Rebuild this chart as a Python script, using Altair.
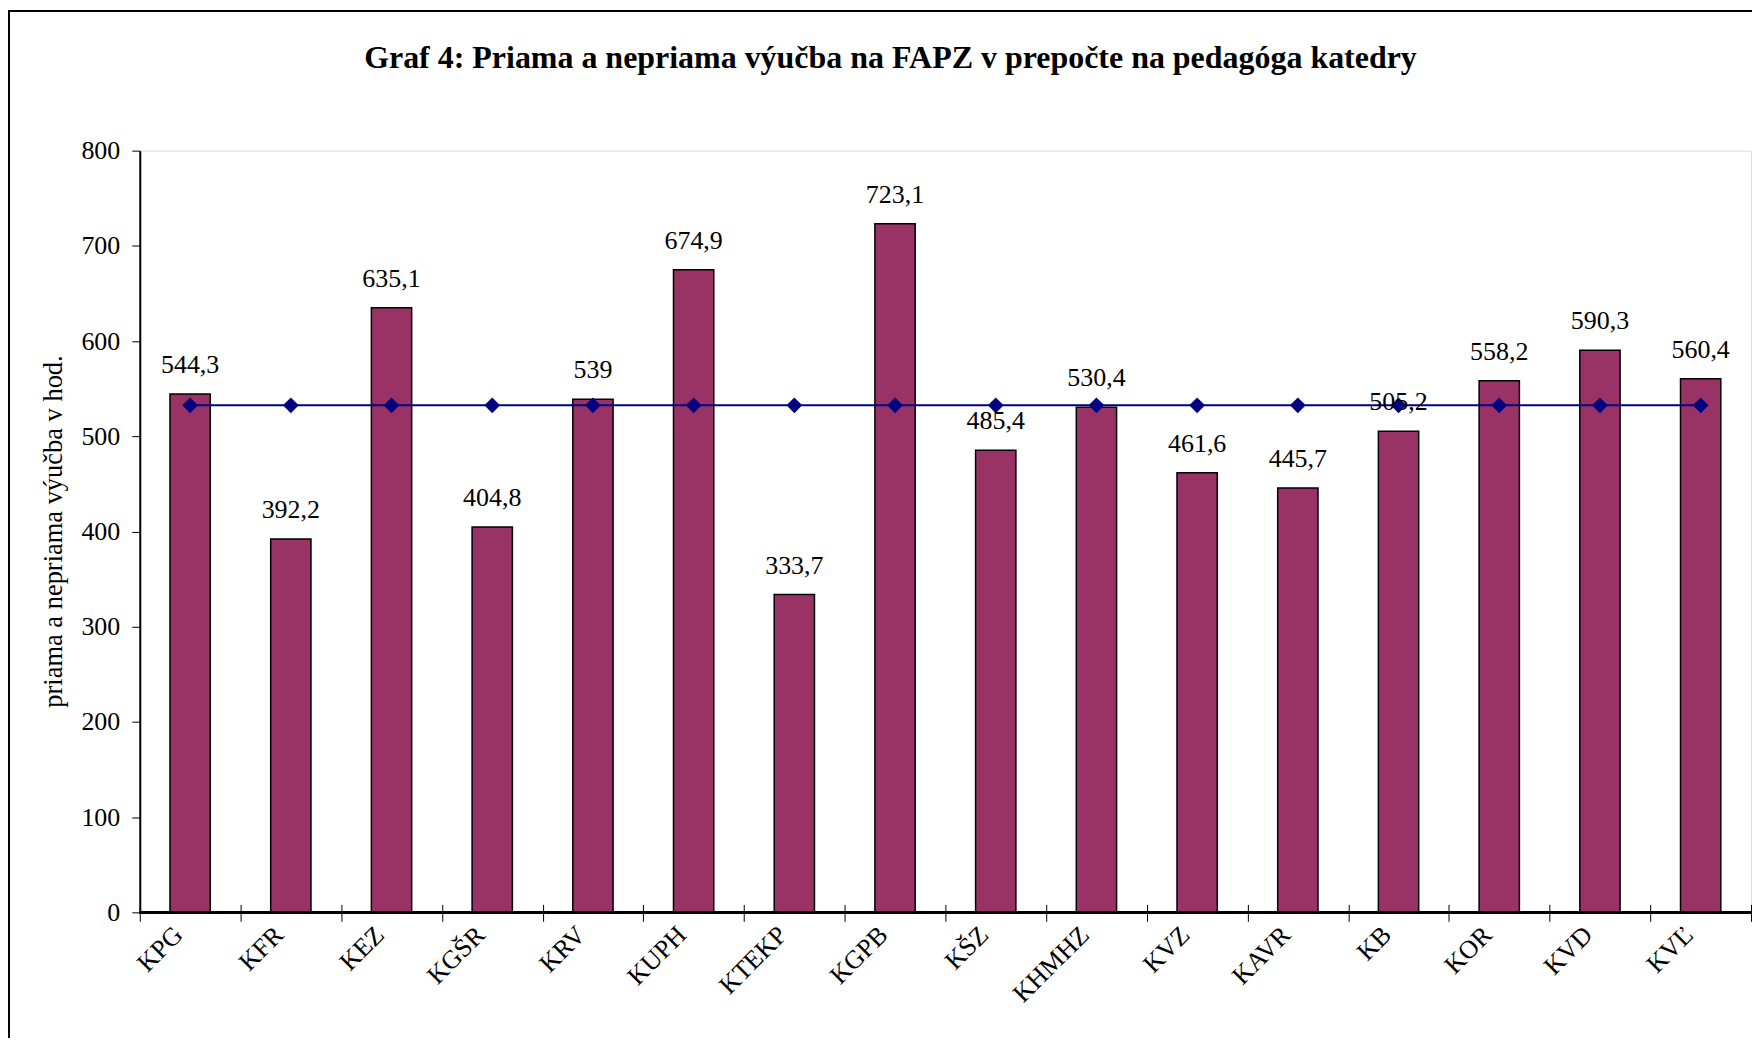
import altair as alt
import pandas as pd

categories = ["KPG", "KFR", "KEZ", "KGŠR", "KRV", "KUPH", "KTEKP", "KGPB",
              "KŠZ", "KHMHZ", "KVZ", "KAVR", "KB", "KOR", "KVD", "KVĽ"]
values = [544.3, 392.2, 635.1, 404.8, 539, 674.9, 333.7, 723.1,
          485.4, 530.4, 461.6, 445.7, 505.2, 558.2, 590.3, 560.4]
average = [532.5, 532.5, 532.5, 532.5, 532.5, 532.5, 532.5, 532.5,
           532.5, 532.5, 532.5, 532.5, 532.5, 532.5, 532.5, 532.5]

df = pd.DataFrame({"katedra": categories, "hodiny": values, "priemer": average})

FONT = "Liberation Serif"
W, H = 1614, 763

x_enc = alt.X(
    "katedra:N", sort=None, title=None,
    scale=alt.Scale(paddingInner=0, paddingOuter=0),
    axis=alt.Axis(
        labelAngle=-45, labelAlign="right", labelBaseline="middle",
        labelFont=FONT, labelFontSize=26, labelColor="black",
        labelPadding=9, labelOffset=-12, labelOverlap=False,
        tickBand="extent", tickSize=17, tickColor="black", tickWidth=1,
        offset=-8, domain=False,
    ),
)

y_enc = alt.Y(
    "hodiny:Q",
    scale=alt.Scale(domain=[0, 800], nice=False),
    axis=alt.Axis(
        values=[0, 100, 200, 300, 400, 500, 600, 700, 800],
        grid=False, tickSize=8, tickColor="black", tickWidth=1,
        domainColor="black", domainWidth=2,
        labelFont=FONT, labelFontSize=26, labelColor="black",
        labelPadding=12, labelFlush=False, labelOverlap=False,
        title="priama a nepriama výučba v hod.",
        titleFont=FONT, titleFontSize=26.5, titleFontWeight="normal",
        titleColor="black", titleAngle=270, titleAlign="center",
        titleBaseline="alphabetic", titleX=-78, titleY=381,
    ),
)

base = alt.Chart(df)

frame = alt.Chart(pd.DataFrame({"f": [0]})).mark_rect(
    filled=False, stroke="black", strokeWidth=2
).encode(
    x=alt.value(-131), x2=alt.value(2400), y=alt.value(-140), y2=alt.value(2400)
)

bars = base.mark_bar(
    width=alt.RelativeBandSize(0.4), color="#993366",
    stroke="black", strokeWidth=1.5
).encode(x=x_enc, y=y_enc)

zero_line = base.mark_rule(color="black", strokeWidth=2).encode(y=alt.datum(0))

avg_line = base.mark_line(color="#000080", strokeWidth=2).encode(
    x=alt.X("katedra:N", sort=None), y=alt.Y("priemer:Q")
)
avg_pts = base.mark_point(
    shape="diamond", filled=True, size=250, color="#000080", opacity=1
).encode(x=alt.X("katedra:N", sort=None), y=alt.Y("priemer:Q"))

labels = base.transform_calculate(
    lab="replace(toString(datum.hodiny), '.', ',')"
).mark_text(
    font=FONT, fontSize=26, color="black", baseline="alphabetic", dy=-21
).encode(x=alt.X("katedra:N", sort=None), y=alt.Y("hodiny:Q"), text="lab:N")

chart = alt.layer(frame, bars, zero_line, avg_line, avg_pts, labels).properties(
    width=W, height=H,
    title=alt.TitleParams(
        text="Graf 4: Priama a nepriama výučba na FAPZ v prepočte na pedagóga katedry",
        font=FONT, fontSize=32, fontWeight="bold", color="black",
        anchor="middle", frame="group", baseline="alphabetic",
        offset=0, dx=-55, dy=90,
    ),
    autosize=alt.AutoSizeParams(type="none"),
    padding={"left": 132, "top": 142, "right": 1, "bottom": 125},
).configure_view(stroke="#808080", strokeWidth=2).configure(background="white")

chart.save("out.html", embed_options={"renderer": "svg", "actions": False})
